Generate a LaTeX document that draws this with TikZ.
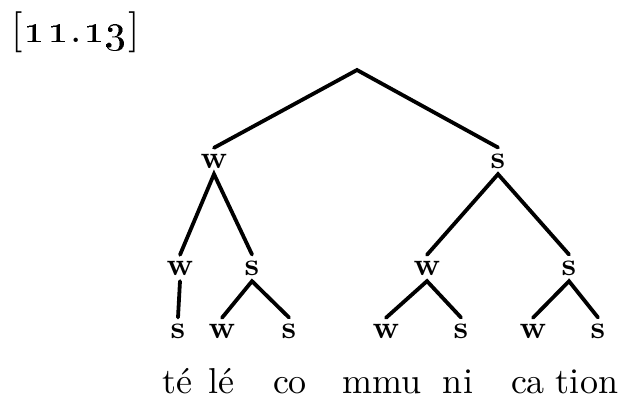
\documentclass[tikz,border=0pt]{standalone}
\usepackage{graphicx}
\newcommand\lbx[1]{\scalebox{3.2}{\bfseries #1}}
\newcommand\wdx[1]{\scalebox{3.6}{#1}}
\begin{document}
\begin{tikzpicture}[x=1pt,y=-1pt,
  lab/.style={inner sep=0pt,outer sep=6pt,anchor=base},
  word/.style={inner sep=0pt,anchor=base},
  br/.style={line width=3.8pt,line cap=round}]
\useasboundingbox (0,0) rectangle (627,399);
\node[anchor=base west,inner sep=0pt] (title) at (11,42)
  {\scalebox{4.1}{[\kern0.5pt\oldstylenums{1}\kern0.8pt\oldstylenums{1}\kern0.5pt.\kern0.5pt\oldstylenums{1}\kern0.2pt\oldstylenums{3}\kern0.5pt]}};
\coordinate (root) at (357,70);
% level 1
\node[lab] (w1) at (214,168) {\lbx{w}};
\node[lab] (s1) at (498,168) {\lbx{s}};
% level 2
\node[lab] (w2) at (180,275) {\lbx{w}};
\node[lab] (s2) at (252,275) {\lbx{s}};
\node[lab] (w3) at (427,275) {\lbx{w}};
\node[lab] (s3) at (569,275) {\lbx{s}};
% level 3
\node[lab] (a) at (178,338) {\lbx{s}};
\node[lab] (b) at (222,338) {\lbx{w}};
\node[lab] (c) at (289,338) {\lbx{s}};
\node[lab] (d) at (386,338) {\lbx{w}};
\node[lab] (e) at (461,338) {\lbx{s}};
\node[lab] (f) at (533,338) {\lbx{w}};
\node[lab] (g) at (598,338) {\lbx{s}};
% words
\node[word] (t1) at (177,393) {\wdx{té}};
\node[word] (t2) at (221,393) {\wdx{lé}};
\node[word] (t3) at (290,393) {\wdx{co}};
\node[word] (t4) at (382,393) {\wdx{mmu}};
\node[word] (t5) at (458,393) {\wdx{ni}};
\node[word] (t6) at (528,393) {\wdx{ca}};
\node[word] (t7) at (587,393) {\wdx{tion}};
% branches
\draw[br] (w1.north) -- (root) -- (s1.north);
\draw[br] (w2.north) -- (w1.south) -- (s2.north);
\draw[br] (w3.north) -- (s1.south) -- (s3.north);
\draw[br] (w2.south) -- (a.north);
\draw[br] (b.north) -- (s2.south) -- (c.north);
\draw[br] (d.north) -- (w3.south) -- (e.north);
\draw[br] (f.north) -- (s3.south) -- (g.north);
\end{tikzpicture}
\end{document}
